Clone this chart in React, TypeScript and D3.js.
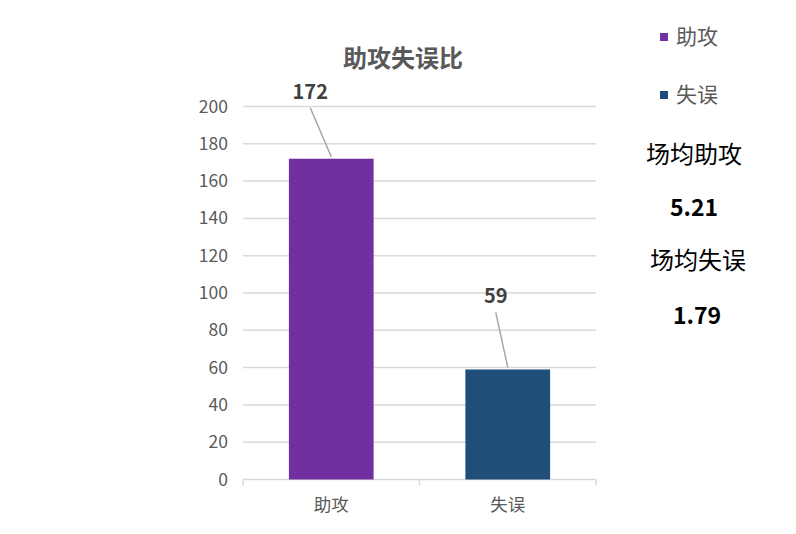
import React from 'react';
import * as d3 from 'd3';

const categories = ['助攻', '失误'];
const counts = [172, 59];
const barColors = ['#7030a0', '#1f4e79'];
const yTicks = [0, 20, 40, 60, 80, 100, 120, 140, 160, 180, 200];
const sideLabels = ['场均助攻', '场均失误'];
const sideValues = ['5.21', '1.79'];

const W = 796;
const H = 534;
const FONT = '"Noto Sans CJK SC", "Noto Sans", sans-serif';
const GRAY = '#595959';

export default function App() {
  const x = d3.scaleBand<string>().domain(categories).range([243, 596]).paddingInner(0.52).paddingOuter(0.26);
  const y = d3.scaleLinear().domain([0, 200]).range([479.5, 106.5]);
  const band = x.bandwidth();

  // label offsets relative to bar top centre (leader lines go up-left)
  const labelDx = [-21, -12];
  const labelDy = [-51, -57];

  return (
    <svg width={W} height={H} style={{ position: 'absolute', left: 0, top: 0, background: '#fff' }} fontFamily={FONT}>
      <text x={403} y={67} textAnchor="middle" fontSize={24} fontWeight={600} fill={GRAY}>助攻失误比</text>

      {/* gridlines */}
      {yTicks.map(t => (
        <g key={t}>
          <line x1={243} x2={596} y1={y(t)} y2={y(t)} stroke="#d9d9d9" strokeWidth={1.5} />
          <text x={228} y={y(t) + 6} textAnchor="end" fontSize={17.5} fill={GRAY}>{t}</text>
        </g>
      ))}

      {/* category ticks */}
      {[243, 243 + (596 - 243) / 2, 596].map(v => (
        <line key={v} x1={v} x2={v} y1={y(0)} y2={y(0) + 6} stroke="#d9d9d9" strokeWidth={1.5} />
      ))}

      {categories.map((c, i) => {
        const bx = x(c)!;
        const top = y(counts[i]);
        const cx = bx + band / 2;
        const lx = cx + labelDx[i];
        const ly = top + labelDy[i];
        return (
          <g key={c}>
            <rect x={bx} y={top} width={band} height={y(0) - top} fill={barColors[i]} />
            <line x1={lx} y1={ly} x2={cx} y2={top - 2} stroke="#a6a6a6" strokeWidth={1.5} />
            <text x={lx} y={ly - 9} textAnchor="middle" fontSize={20} fontWeight={700} fill="#404040">{counts[i]}</text>
            <text x={cx} y={511} textAnchor="middle" fontSize={17.5} fill={GRAY}>{c}</text>
          </g>
        );
      })}

      {/* legend */}
      {categories.map((c, i) => (
        <g key={c} transform={`translate(660, ${33 + i * 58})`}>
          <rect x={0} y={0} width={8} height={8} fill={barColors[i]} />
          <text x={16} y={11} fontSize={21} fill={GRAY}>{c}</text>
        </g>
      ))}

      {/* per-game stats */}
      {sideLabels.map((s, i) => (
        <g key={s}>
          <text x={i === 0 ? 694 : 698} y={163 + i * 106} textAnchor="middle" fontSize={24} fill="#000">{s}</text>
          <text x={i === 0 ? 694 : 697} y={216 + i * 108} textAnchor="middle" fontSize={23} fontWeight={700} fill="#000">{sideValues[i]}</text>
        </g>
      ))}
    </svg>
  );
}
